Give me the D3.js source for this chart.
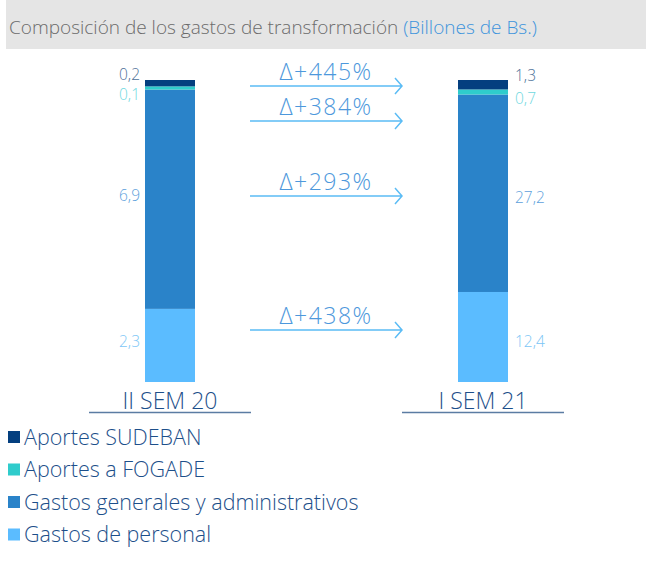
<!DOCTYPE html>
<html>
<head>
<meta charset="utf-8">
<script src="https://cdn.jsdelivr.net/npm/d3@7"></script>
<style>
  body { margin: 0; background: #fff; }
  svg { display: block; font-family: "Open Sans", "Noto Sans", sans-serif; font-weight: 300; }
</style>
</head>
<body>
<svg id="chart" width="646" height="572"></svg>
<script>
// periods and series (billions of Bs.)
const periods = ["II SEM 20", "I SEM 21"];
const series = ["Gastos de personal", "Gastos generales y administrativos", "Aportes a FOGADE", "Aportes SUDEBAN"];
const personal = [2.3, 12.4];
const generales = [6.9, 27.2];
const fogade = [0.1, 0.7];
const sudeban = [0.2, 1.3];
const labels = [["2,3", "12,4"], ["6,9", "27,2"], ["0,1", "0,7"], ["0,2", "1,3"]];
const deltas = ["Δ+445%", "Δ+384%", "Δ+293%", "Δ+438%"];
const deltaAt = [0.98, 0.864, 0.616, 0.172];   // share of bar height where each arrow sits
const legendOrder = ["Aportes SUDEBAN", "Aportes a FOGADE", "Gastos generales y administrativos", "Gastos de personal"];

const colors = {
    "Gastos de personal": "#5bbcff",
    "Gastos generales y administrativos": "#2a83c9",
    "Aportes a FOGADE": "#2fcccc",
    "Aportes SUDEBAN": "#043f7f"
};
const labelColors = {
    "Gastos de personal": "#7cc6f6",
    "Gastos generales y administrativos": "#5d9fdc",
    "Aportes a FOGADE": "#6fd8e0",
    "Aportes SUDEBAN": "#4d6f98"
};

const svg = d3.select("svg#chart");

// Title band
svg.append("rect")
    .attr("x", 6).attr("y", 0).attr("width", 640).attr("height", 49)
    .attr("fill", "#e5e5e5");
const title = svg.append("text")
    .attr("x", 9).attr("y", 34)
    .style("font-size", "19px")
    .attr("fill", "#6b6b6b");
title.append("tspan").text("Composición de los gastos de transformación ");
title.append("tspan").attr("fill", "#3d94dc").text("(Billones de Bs.)");

// Data as rows, normalised to 100% per period
const rows = periods.map((p, i) => {
    const total = personal[i] + generales[i] + fogade[i] + sudeban[i];
    return {
        period: p,
        "Gastos de personal": personal[i] / total,
        "Gastos generales y administrativos": generales[i] / total,
        "Aportes a FOGADE": fogade[i] / total,
        "Aportes SUDEBAN": sudeban[i] / total
    };
});
const stacked = d3.stack().keys(series)(rows);

const x = d3.scalePoint().domain(periods).range([170, 483]);
const y = d3.scaleLinear().domain([0, 1]).range([382, 80]);
const barW = 50;

// Bars
svg.append("g")
    .selectAll("g")
    .data(stacked)
    .join("g")
    .attr("fill", d => colors[d.key])
    .selectAll("rect")
    .data(d => d)
    .join("rect")
    .attr("x", d => x(d.data.period) - barW / 2)
    .attr("y", d => y(d[1]))
    .attr("width", barW)
    .attr("height", d => y(d[0]) - y(d[1]));

// Value labels: left bar on the left side, right bar on the right side
const labelNudge = { "Aportes SUDEBAN": -8.5, "Aportes a FOGADE": 7 };
stacked.forEach((layer, si) => {
    layer.forEach((d, pi) => {
        const mid = (y(d[0]) + y(d[1])) / 2;
        const off = labelNudge[layer.key] || 0;
        const left = pi === 0;
        svg.append("text")
            .attr("x", left ? x(d.data.period) - barW / 2 - 5 : x(d.data.period) + barW / 2 + 7)
            .attr("y", layer.key === "Gastos de personal" || layer.key === "Gastos generales y administrativos"
                ? mid + 6 + (left ? -4 : 4) : mid + off + 5)
            .attr("text-anchor", left ? "end" : "start")
            .style("font-size", "15.5px")
            .attr("fill", labelColors[layer.key])
            .text(labels[si][pi]);
    });
});

// Period labels with underline
periods.forEach(p => {
    svg.append("text")
        .attr("x", x(p)).attr("y", 409)
        .attr("text-anchor", "middle")
        .style("font-size", "23px")
        .attr("fill", "#1d4f8a")
        .text(p);
    svg.append("line")
        .attr("x1", x(p) - 81).attr("x2", x(p) + 81)
        .attr("y1", 412.5).attr("y2", 412.5)
        .attr("stroke", "#5b7ca3").attr("stroke-width", 1.5);
});

// Growth arrows
const arrowX0 = 250, arrowX1 = 402;
const arrows = svg.append("g")
    .selectAll("g")
    .data(deltas.map((t, i) => ({ t, at: deltaAt[i] })))
    .join("g");
arrows.append("path")
    .attr("d", d => `M${arrowX0},${y(d.at)}H${arrowX1}M${arrowX1 - 7},${y(d.at) - 8}L${arrowX1},${y(d.at)}L${arrowX1 - 7},${y(d.at) + 8}`)
    .attr("fill", "none")
    .attr("stroke", "#5bbcf5")
    .attr("stroke-width", 1.5);
arrows.append("text")
    .attr("x", (arrowX0 + arrowX1) / 2)
    .attr("y", d => y(d.at) - 6)
    .attr("text-anchor", "middle")
    .style("font-size", "23px")
    .style("letter-spacing", "1.5px")
    .attr("fill", "#4d98dc")
    .text(d => d.t);

// Legend
const legend = svg.append("g")
    .selectAll("g")
    .data(legendOrder)
    .join("g")
    .attr("transform", (d, i) => `translate(8,${437 + i * 32.5})`);
legend.append("rect")
    .attr("x", 0).attr("y", -6).attr("width", 12).attr("height", 12)
    .attr("fill", d => colors[d]);
legend.append("text")
    .attr("x", 16).attr("y", 7.5)
    .style("font-size", "21.5px")
    .attr("fill", "#1d4f8a")
    .text(d => d);
</script>
</body>
</html>
